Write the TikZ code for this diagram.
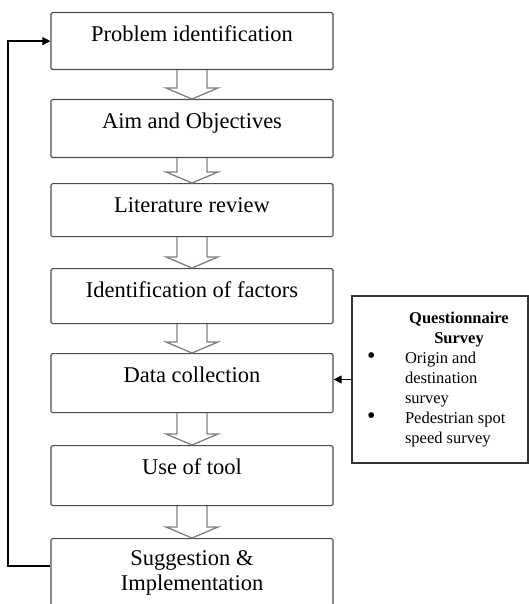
\documentclass[tikz,border=0pt]{standalone}
\usepackage{fontspec}
\setmainfont{Liberation Serif}
\usetikzlibrary{arrows.meta,calc}

\begin{document}
\begin{tikzpicture}[x=1pt,y=-1pt,
    boxbase/.style={draw=black!70,line width=1.2pt,rounded corners=1.5pt,minimum width=282pt,font=\fontsize{22.5}{25}\selectfont},
    stepbox/.style={boxbase,inner ysep=0pt,text height=28.5pt,text depth=#1},
    hollow/.style={draw=black!50,line width=1.3pt},
    link/.style={line width=1.2pt,-{Triangle[length=8pt,width=8pt]}}]
    \path[use as bounding box,clip] (0,0) rectangle (529,604);
    \node[stepbox=28.5pt,anchor=north] (prob) at (192,12) {Problem identification};
    \node[stepbox=29.5pt,anchor=north] (aim) at (192,99) {Aim and Objectives};
    \node[stepbox=24.5pt,anchor=north] (lit) at (192,183) {Literature review};
    \node[stepbox=26.5pt,anchor=north] (fact) at (192,268) {Identification of factors};
    \node[stepbox=30.5pt,anchor=north] (data) at (192,353) {Data collection};
    \node[stepbox=31.5pt,anchor=north] (tool) at (192,445) {Use of tool};
    \node[boxbase,minimum height=68pt,align=center,anchor=north] (sugg) at (192,538) {Suggestion \&\\Implementation};
    % hollow arrows between the steps
    \foreach \a/\b in {prob/aim,aim/lit,lit/fact,fact/data,data/tool,tool/sugg}
        \draw[hollow] let \p1=(\a.south), \p2=(\b.north) in
            (\x1-15pt,\y1) -- (\x1-15pt,\y2+11pt) -- (\x1-26pt,\y2+11pt) -- (\x2,\y2)
            -- (\x1+26pt,\y2+11pt) -- (\x1+15pt,\y2+11pt) -- (\x1+15pt,\y1);
    \node[draw=black!80,line width=1.2pt,minimum width=176pt,minimum height=167pt,inner sep=0pt,font=\fontsize{16.5}{20}\selectfont] (survey) at (440,379.5) {%
        \begin{tabular}{@{}p{38pt}@{}p{108pt}@{}}
            & \multicolumn{1}{@{}c@{}}{\bfseries Questionnaire}\\
            & \multicolumn{1}{@{}c@{}}{\bfseries Survey}\\
            {\fontsize{24}{20}\selectfont\textbullet} & \raggedright Origin and destination survey\tabularnewline
            {\fontsize{24}{20}\selectfont\textbullet} & \raggedright Pedestrian spot speed survey\tabularnewline
        \end{tabular}};
    \draw[link] (survey.west) -- (survey.west -| data.east);
    % feedback loop
    \coordinate (back) at (8,566);
    \draw[link] (back -| sugg.west) -- (back) |- (prob.west);
\end{tikzpicture}
\end{document}
